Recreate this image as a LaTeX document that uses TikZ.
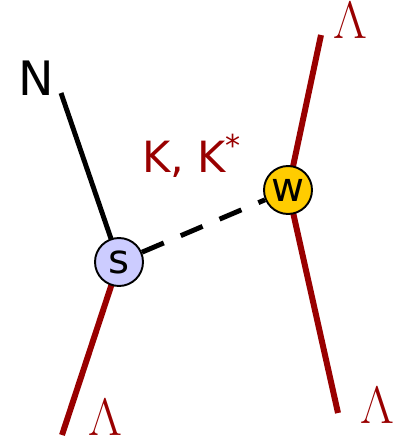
\RequirePackage{fix-cm}
\documentclass[tikz,border=0pt]{standalone}
\usepackage{fontspec}
\setsansfont{DejaVu Sans}
\usetikzlibrary{backgrounds}
\definecolor{lamred}{RGB}{153,0,0}
\definecolor{sblue}{RGB}{204,204,255}
\definecolor{wgold}{RGB}{255,204,0}

\begin{document}
\begin{tikzpicture}[x=0.02cm, y=-0.02cm, line join=round,
    vertex/.style={circle, draw=black, line width=1.1pt, minimum size=0.96cm, inner sep=0pt,
        font=\sffamily\fontsize{23}{23}\selectfont},
    lamline/.style={draw=lamred, line width=3.4pt},
    lamlabel/.style={text=lamred, inner sep=0pt, font=\fontsize{30}{30}\selectfont}]
    \useasboundingbox (0,0) rectangle (402,439);
    % 端点
    \coordinate (N0) at (61,93);
    \coordinate (L1) at (62,435);
    \coordinate (R0) at (321,35);
    \coordinate (R1) at (338,413);

    % 顶点
    \node[vertex, fill=sblue] (s) at (119,262) {s};
    \node[vertex, fill=wgold] (w) at (288,190) {w};

    % 线（在顶点下面）
    \begin{scope}[on background layer]
        \draw[line width=2.8pt] (N0) -- (s.center);
        \draw[lamline] (s.center) -- (L1);
        \draw[lamline] (R0) -- (w.center) -- (R1);
    \end{scope}
    \draw[line width=2.8pt, dash pattern=on 13.5pt off 10.5pt] (s) -- (w);

    \node[font=\sffamily\fontsize{27}{27}\selectfont] (Nlab) at (36,78) {N};
    \node[anchor=base, text=lamred, font=\sffamily\fontsize{24.5}{24.5}\selectfont] (Klab) at (192,172) {K, K\textsuperscript{*}};
    \node[lamlabel] (Lam1) at (105,417) {$\Lambda$};
    \node[lamlabel] (Lam2) at (350,20) {$\Lambda$};
    \node[lamlabel] (Lam3) at (377,405) {$\Lambda$};
\end{tikzpicture}
\end{document}
